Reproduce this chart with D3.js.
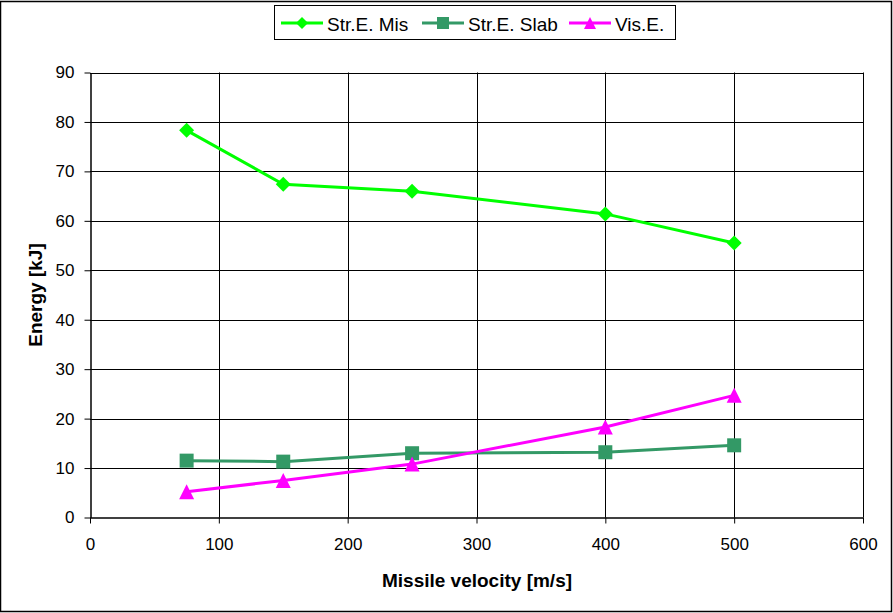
<!DOCTYPE html>
<html>
<head>
<meta charset="utf-8">
<script src="https://cdn.jsdelivr.net/npm/d3@7"></script>
<style>
  html, body { margin: 0; padding: 0; background: #fff; }
  svg { display: block; font-family: "Liberation Sans", Arial, sans-serif; }
</style>
</head>
<body>
<svg id="chart" width="893" height="613"></svg>
<script>
// Missile velocities [m/s]
const velocities = [75, 150, 250, 400, 500];
// Energy components [kJ]
const strEMis  = [78.3, 67.4, 66.0, 61.4, 55.5];
const strESlab = [11.5, 11.3, 13.0, 13.2, 14.6];
const visE     = [5.2, 7.5, 10.8, 18.3, 24.7];

const xTicks = [0, 100, 200, 300, 400, 500, 600];
const yTicks = [0, 10, 20, 30, 40, 50, 60, 70, 80, 90];

const seriesNames  = ["Str.E. Mis", "Str.E. Slab", "Vis.E."];
const seriesColors = ["#00ff00", "#339966", "#ff00ff"];
const seriesValues = [strEMis, strESlab, visE];

// marker shapes, drawn inside a box of the given width
const markerPaths = [
  w => { const h = w / 2; return `M0,${-h}L${h},0L0,${h}L${-h},0Z`; },           // diamond
  w => { const h = w / 2; return `M${-h},${-h}H${h}V${h}H${-h}Z`; },             // square
  w => { const h = w / 2; return `M0,${-h}L${h},${h}L${-h},${h}Z`; }             // triangle
];

(function draw() {
  const svg = d3.select("#chart");
  const W = 893, H = 613;

  // outer frame
  svg.append("rect").attr("x", 0.5).attr("y", 1.5).attr("width", W - 2).attr("height", H - 3)
    .attr("fill", "#fff").attr("stroke", "#000").attr("stroke-width", 1.5);

  const pLeft = 90, pRight = 863, pTop = 72.5, pBottom = 517.5;
  const x = d3.scaleLinear().domain([0, 600]).range([pLeft, pRight]);
  const y = d3.scaleLinear().domain([0, 90]).range([pBottom, pTop]);

  // gridlines
  const grid = svg.append("g").attr("stroke", "#000").attr("stroke-width", 1);
  grid.selectAll("line.h").data(yTicks.filter(d => d > 0)).join("line")
    .attr("x1", pLeft).attr("x2", pRight)
    .attr("y1", d => Math.round(y(d)) + 0.5).attr("y2", d => Math.round(y(d)) + 0.5);
  grid.selectAll("line.v").data(xTicks.filter(d => d > 0)).join("line")
    .attr("y1", pTop).attr("y2", pBottom)
    .attr("x1", d => Math.round(x(d)) + 0.5).attr("x2", d => Math.round(x(d)) + 0.5);

  // axes
  const xAxis = d3.axisBottom(x).tickValues(xTicks).tickSize(6).tickSizeOuter(0);
  const yAxis = d3.axisLeft(y).tickValues(yTicks).tickSize(6).tickSizeOuter(0);
  const gx = svg.append("g").attr("transform", `translate(0,${Math.round(pBottom) - 0.5})`).call(xAxis);
  const gy = svg.append("g").attr("transform", `translate(${pLeft + 0.5},0)`).call(yAxis);
  [gx, gy].forEach(g => {
    g.select(".domain").attr("stroke", "#000").attr("stroke-width", 1.5);
    g.selectAll(".tick line").attr("stroke", "#000");
    g.selectAll(".tick text").attr("fill", "#000")
      .style("font-family", '"Liberation Sans", Arial, sans-serif').style("font-size", "17px");
  });
  gx.selectAll(".tick text").attr("y", 20).attr("dy", "0.71em");
  gy.selectAll(".tick text").attr("x", -16);

  // axis titles
  svg.append("text").attr("x", 477).attr("y", 587)
    .attr("text-anchor", "middle").style("font-size", "19px").style("font-weight", "bold")
    .text("Missile velocity [m/s]");
  svg.append("text").attr("transform", `translate(42,295) rotate(-90)`)
    .attr("text-anchor", "middle").style("font-size", "19px").style("font-weight", "bold")
    .text("Energy [kJ]");

  // series
  const line = d3.line().x(d => x(d[0])).y(d => y(d[1]));
  const markerW = [15, 14, 15];
  seriesValues.forEach((vals, i) => {
    const pts = velocities.map((v, j) => [v, vals[j]]);
    svg.append("path").datum(pts).attr("d", line)
      .attr("fill", "none").attr("stroke", seriesColors[i]).attr("stroke-width", 3);
    svg.append("g").selectAll("path").data(pts).join("path")
      .attr("transform", d => `translate(${x(d[0])},${y(d[1])})`)
      .attr("d", markerPaths[i](markerW[i]))
      .attr("fill", seriesColors[i]);
  });

  // legend
  const lg = svg.append("g");
  lg.append("rect").attr("x", 274.5).attr("y", 5.5).attr("width", 401).attr("height", 34)
    .attr("fill", "#fff").attr("stroke", "#000").attr("stroke-width", 1);
  const legendX = [281, 422, 569];
  seriesNames.forEach((name, i) => {
    const g = lg.append("g").attr("transform", `translate(${legendX[i]},23)`);
    g.append("line").attr("x1", 0).attr("x2", 42).attr("y1", 0).attr("y2", 0)
      .attr("stroke", seriesColors[i]).attr("stroke-width", 3);
    g.append("path").attr("transform", "translate(21,0)")
      .attr("d", markerPaths[i](12))
      .attr("fill", seriesColors[i]);
    g.append("text").attr("x", 46).attr("y", 4.5).attr("dy", "0.2em").style("font-size", "19px").text(name);
  });
})();
</script>
</body>
</html>
